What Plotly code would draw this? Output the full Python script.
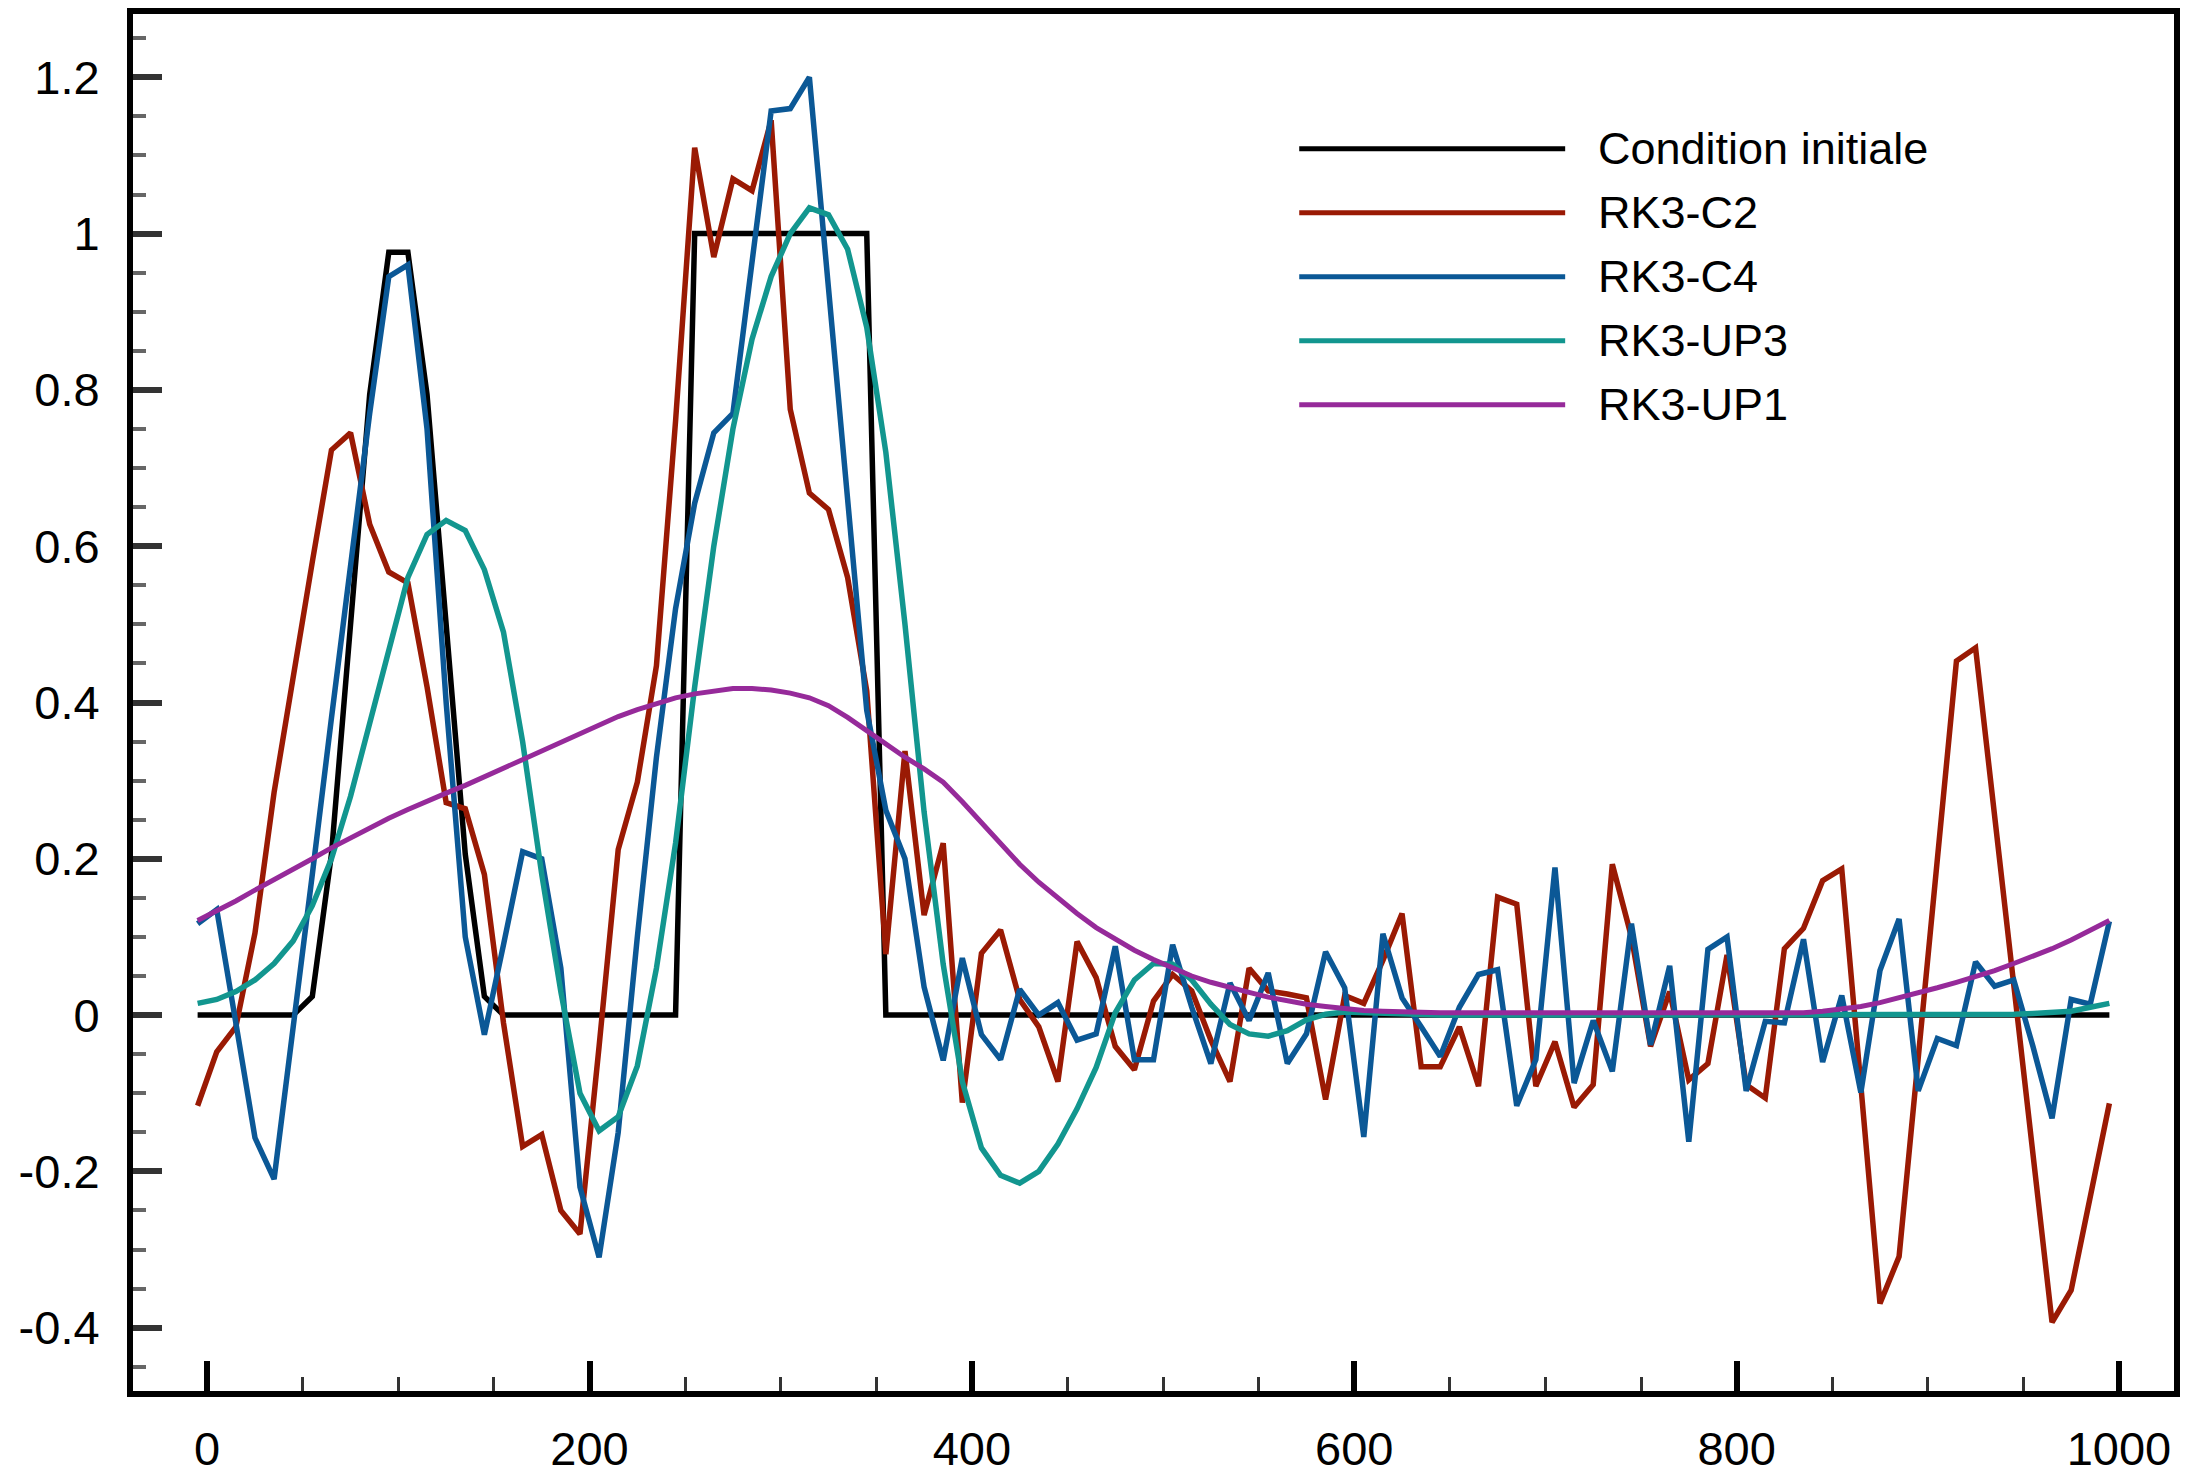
import plotly.graph_objects as go

# Grid positions (cell centres)
X = list(range(-5, 1000, 10))

NAMES = ["Condition initiale", "RK3-C2", "RK3-C4", "RK3-UP3", "RK3-UP1"]
COLORS = ["#000000", "#9a1a04", "#0b5896", "#12968f", "#962a9a"]
WIDTHS = [5.5, 5.5, 5.5, 5.5, 5]

INIT = [0, 0, 0, 0, 0, 0, 0.024, 0.206, 0.5, 0.794,
        0.976, 0.976, 0.794, 0.5, 0.206, 0.024, 0, 0, 0, 0,
        0, 0, 0, 0, 0, 0, 1, 1, 1, 1,
        1, 1, 1, 1, 1, 1, 0, 0, 0, 0,
        0, 0, 0, 0, 0, 0, 0, 0, 0, 0,
        0, 0, 0, 0, 0, 0, 0, 0, 0, 0,
        0, 0, 0, 0, 0, 0, 0, 0, 0, 0,
        0, 0, 0, 0, 0, 0, 0, 0, 0, 0,
        0, 0, 0, 0, 0, 0, 0, 0, 0, 0,
        0, 0, 0, 0, 0, 0, 0, 0, 0, 0, 0]

C2 = [-0.116, -0.047, -0.015, 0.105, 0.285, 0.435, 0.58, 0.723, 0.745, 0.628,
      0.567, 0.553, 0.42, 0.272, 0.264, 0.18, -0.01, -0.168, -0.153, -0.25,
      -0.28, -0.04, 0.212, 0.298, 0.447, 0.76, 1.11, 0.97, 1.07, 1.055,
      1.145, 0.775, 0.668, 0.647, 0.56, 0.415, 0.078, 0.338, 0.128, 0.22,
      -0.112, 0.079, 0.109, 0.02, -0.015, -0.085, 0.094, 0.048, -0.04, -0.07,
      0.018, 0.052, 0.031, -0.032, -0.085, 0.06, 0.031, 0.027, 0.022, -0.108,
      0.025, 0.015, 0.07, 0.13, -0.066, -0.066, -0.015, -0.091, 0.151, 0.142,
      -0.091, -0.034, -0.118, -0.089, 0.193, 0.1, -0.04, 0.03, -0.083, -0.062,
      0.077, -0.089, -0.106, 0.085, 0.111, 0.172, 0.187, -0.09, -0.369, -0.309,
      -0.055, 0.2, 0.453, 0.47, 0.254, 0.04, -0.18, -0.393, -0.352, -0.23, -0.113]

C4 = [0.117, 0.135, -0.01, -0.157, -0.21, -0.02, 0.18, 0.38, 0.58, 0.77,
      0.945, 0.96, 0.75, 0.4, 0.1, -0.025, 0.09, 0.209, 0.2, 0.06,
      -0.22, -0.31, -0.15, 0.1, 0.33, 0.52, 0.655, 0.745, 0.77, 0.96,
      1.157, 1.16, 1.2, 0.93, 0.65, 0.39, 0.262, 0.2, 0.036, -0.058,
      0.073, -0.025, -0.057, 0.033, 0.0, 0.016, -0.032, -0.024, 0.088, -0.057,
      -0.057, 0.09, 0.01, -0.062, 0.041, -0.007, 0.054, -0.062, -0.024, 0.081,
      0.035, -0.156, 0.104, 0.022, -0.015, -0.053, 0.01, 0.052, 0.058, -0.116,
      -0.057, 0.189, -0.087, -0.007, -0.072, 0.117, -0.038, 0.063, -0.162, 0.084,
      0.1, -0.097, -0.008, -0.01, 0.097, -0.06, 0.025, -0.099, 0.057, 0.123,
      -0.097, -0.03, -0.039, 0.068, 0.037, 0.045, -0.04, -0.132, 0.02, 0.014, 0.12]

UP3 = [0.015, 0.02, 0.03, 0.045, 0.066, 0.095, 0.14, 0.2, 0.28, 0.375,
       0.47, 0.56, 0.615, 0.633, 0.62, 0.57, 0.49, 0.35, 0.18, 0.03,
       -0.1, -0.148, -0.13, -0.065, 0.06, 0.22, 0.42, 0.6, 0.75, 0.865,
       0.945, 1.0, 1.033, 1.024, 0.98, 0.88, 0.72, 0.5, 0.26, 0.065,
       -0.085, -0.17, -0.205, -0.215, -0.2, -0.165, -0.12, -0.067, 0.003, 0.045,
       0.066, 0.065, 0.045, 0.014, -0.012, -0.024, -0.027, -0.02, -0.006, 0.001,
       0.004, 0.003, 0.002, 0.001, 0.001, 0.0, 0.0, 0.0, 0.0, 0.0,
       0.0, 0.0, 0.0, 0.0, 0.0, 0.0, 0.0, 0.0, 0.0, 0.0,
       0.0, 0.0, 0.0, 0.0, 0.0, 0.0, 0.0, 0.0, 0.0, 0.0,
       0.0, 0.0, 0.0, 0.0, 0.0, 0.001, 0.002, 0.003, 0.005, 0.01, 0.015]

UP1 = [0.121, 0.133, 0.146, 0.16, 0.173, 0.186, 0.2, 0.214, 0.227, 0.24,
       0.252, 0.263, 0.274, 0.284, 0.294, 0.305, 0.316, 0.327, 0.339, 0.35,
       0.361, 0.372, 0.382, 0.391, 0.399, 0.406, 0.411, 0.415, 0.418, 0.418,
       0.416, 0.412, 0.406, 0.396, 0.381, 0.364, 0.347, 0.33, 0.315, 0.298,
       0.273, 0.246, 0.219, 0.193, 0.17, 0.149, 0.13, 0.112, 0.097, 0.083,
       0.071, 0.06, 0.05, 0.042, 0.035, 0.029, 0.023, 0.018, 0.014, 0.011,
       0.008, 0.006, 0.005, 0.004, 0.003, 0.003, 0.003, 0.003, 0.003, 0.003,
       0.003, 0.003, 0.003, 0.003, 0.003, 0.003, 0.003, 0.003, 0.003, 0.003,
       0.003, 0.003, 0.003, 0.003, 0.003, 0.005, 0.008, 0.011, 0.016, 0.022,
       0.028, 0.035, 0.042, 0.049, 0.057, 0.066, 0.075, 0.085, 0.096, 0.108, 0.121]

SERIES = [INIT, C2, C4, UP3, UP1]
for s in SERIES:
    assert len(s) == len(X), len(s)

Y_TICKS = [-0.4, -0.2, 0, 0.2, 0.4, 0.6, 0.8, 1, 1.2]
Y_TICKTEXT = ["-0.4", "-0.2", "0", "0.2", "0.4", "0.6", "0.8", "1", "1.2"]
X_TICKS = [0, 200, 400, 600, 800, 1000]
X_TICKTEXT = ["0", "200", "400", "600", "800", "1000"]

FONT = "Liberation Sans, Arial, Helvetica, sans-serif"

fig = go.Figure()
for name, vals, col, w in zip(NAMES, SERIES, COLORS, WIDTHS):
    fig.add_trace(go.Scatter(x=X, y=vals, mode="lines", name=name,
                             line=dict(color=col, width=w), showlegend=False))

# Manual legend (long line samples as in the original)
LEG_X0, LEG_X1, LEG_TX = 0.5714, 0.7017, 0.7167
LEG_Y0, LEG_DY = 0.9022, 0.0465
for i, (name, col) in enumerate(zip(NAMES, COLORS)):
    yy = LEG_Y0 - i * LEG_DY
    fig.add_shape(type="line", xref="paper", yref="paper",
                  x0=LEG_X0, x1=LEG_X1, y0=yy, y1=yy,
                  line=dict(color=col, width=5))
    fig.add_annotation(xref="paper", yref="paper", x=LEG_TX, y=yy,
                       text=name, showarrow=False, xanchor="left",
                       yanchor="middle", font=dict(family=FONT, size=45, color="#000"))

fig.update_layout(
    width=2185, height=1480, autosize=False,
    margin=dict(l=133, r=5, t=14, b=68, pad=0),
    paper_bgcolor="white", plot_bgcolor="white",
    font=dict(family=FONT, size=47, color="#000"),
    showlegend=False,
)
fig.update_xaxes(
    range=[-38.8, 1028.8], tickmode="array", tickvals=X_TICKS, ticktext=X_TICKTEXT,
    ticks="inside", ticklen=30, tickwidth=6, tickcolor="#000",
    minor=dict(tickmode="linear", tick0=0, dtick=50, ticks="inside",
               ticklen=14, tickwidth=3, tickcolor="#333", showgrid=False),
    showline=True, linewidth=6, linecolor="#000", mirror=True,
    showgrid=False, zeroline=False, ticklabelstandoff=12,
    tickfont=dict(family=FONT, size=47, color="#000"),
)
fig.update_yaxes(
    range=[-0.481, 1.281], tickmode="array", tickvals=Y_TICKS, ticktext=Y_TICKTEXT,
    ticks="inside", ticklen=29, tickwidth=6, tickcolor="#333",
    minor=dict(tickmode="linear", tick0=0, dtick=0.05, ticks="inside",
               ticklen=13, tickwidth=4, tickcolor="#666", showgrid=False),
    showline=True, linewidth=6, linecolor="#000", mirror=True,
    showgrid=False, zeroline=False, ticklabelstandoff=18,
    tickfont=dict(family=FONT, size=47, color="#000"),
)

fig.write_html("out.html", config={"displayModeBar": False},
               post_script="document.body.style.margin='0';")
